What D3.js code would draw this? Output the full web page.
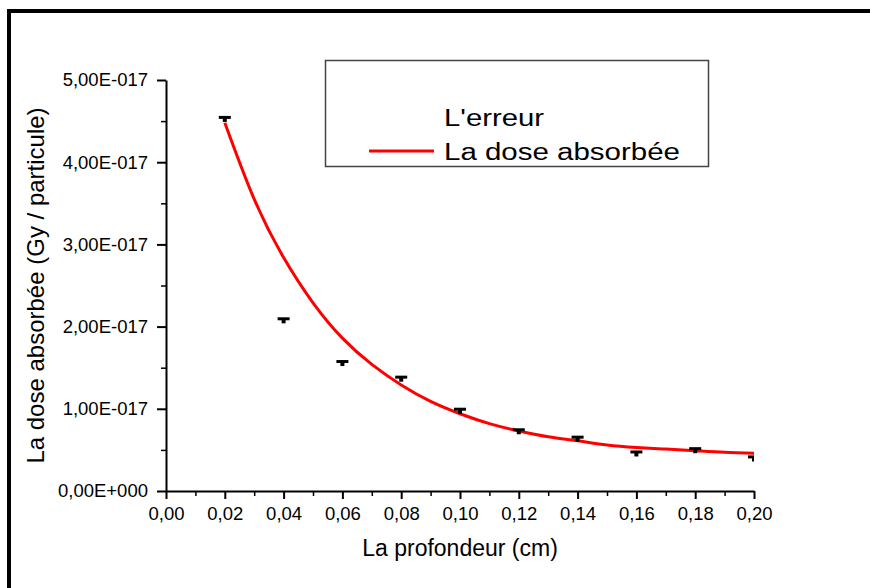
<!DOCTYPE html>
<html>
<head>
<meta charset="utf-8">
<script src="https://cdn.jsdelivr.net/npm/d3@7"></script>
<style>
  body { margin: 0; background: #fff; }
  svg { display: block; }
  text { font-family: "Liberation Sans", Arial, sans-serif; fill: #000; }
</style>
</head>
<body>
<svg id="chart" width="870" height="588"></svg>
<script>
// Measured absorbed dose per particle at each depth, with its error
const depth = [0.02, 0.04, 0.06, 0.08, 0.10, 0.12, 0.14, 0.16, 0.18, 0.20];
const dose = [4.49e-17, 2.04e-17, 1.52e-17, 1.33e-17, 0.94e-17, 0.69e-17, 0.60e-17, 0.42e-17, 0.46e-17, 0.36e-17];
const doseErr = [0.055e-17, 0.055e-17, 0.055e-17, 0.055e-17, 0.055e-17, 0.055e-17, 0.055e-17, 0.055e-17, 0.055e-17, 0.055e-17];

// Fitted absorbed dose curve
const fitDepth = [0.02, 0.03, 0.04, 0.05, 0.06, 0.07, 0.08, 0.09, 0.10, 0.11, 0.12, 0.13, 0.14, 0.15, 0.16, 0.17, 0.18, 0.19, 0.20];
const fitDose = [4.48e-17, 3.55e-17, 2.84e-17, 2.29e-17, 1.86e-17, 1.54e-17, 1.29e-17, 1.09e-17, 0.94e-17, 0.82e-17,
                 0.73e-17, 0.66e-17, 0.61e-17, 0.56e-17, 0.53e-17, 0.51e-17, 0.49e-17, 0.47e-17, 0.46e-17];

// Axis ticks
const xTicks = [0, 0.02, 0.04, 0.06, 0.08, 0.10, 0.12, 0.14, 0.16, 0.18, 0.20];
const xTickLabels = ["0,00", "0,02", "0,04", "0,06", "0,08", "0,10", "0,12", "0,14", "0,16", "0,18", "0,20"];
const xMinorTicks = [0.01, 0.03, 0.05, 0.07, 0.09, 0.11, 0.13, 0.15, 0.17, 0.19];
const yTicks = [0, 1e-17, 2e-17, 3e-17, 4e-17, 5e-17];
const yTickLabels = ["0,00E+000", "1,00E-017", "2,00E-017", "3,00E-017", "4,00E-017", "5,00E-017"];
const yMinorTicks = [0.5e-17, 1.5e-17, 2.5e-17, 3.5e-17, 4.5e-17];

const legendLabels = ["L'erreur", "La dose absorbée"];

const svg = d3.select("#chart");
const plot = { left: 166, right: 754, top: 80, bottom: 491 };

const x = d3.scaleLinear().domain([0, 0.20]).range([plot.left, plot.right]);
const y = d3.scaleLinear().domain([0, 5e-17]).range([plot.bottom, plot.top]);

// Outer frame
svg.append("path")
  .attr("d", "M9,588 V11 H870")
  .attr("fill", "none")
  .attr("stroke", "#000")
  .attr("stroke-width", 4);

// Clip to the plotting area
svg.append("clipPath").attr("id", "plotClip")
  .append("rect")
  .attr("x", plot.left).attr("y", plot.top - 10)
  .attr("width", plot.right - plot.left).attr("height", plot.bottom - plot.top + 10);

// Minor ticks
svg.append("g")
  .attr("transform", `translate(0,${plot.bottom})`)
  .call(d3.axisBottom(x).tickValues(xMinorTicks).tickFormat("").tickSize(5).tickSizeOuter(0))
  .call(g => g.select(".domain").remove())
  .call(g => g.selectAll("line").attr("stroke-width", 1.5));
svg.append("g")
  .attr("transform", `translate(${plot.left},0)`)
  .call(d3.axisLeft(y).tickValues(yMinorTicks).tickFormat("").tickSize(5).tickSizeOuter(0))
  .call(g => g.select(".domain").remove())
  .call(g => g.selectAll("line").attr("stroke-width", 1.5));

// Major axes
const xAxis = svg.append("g")
  .attr("transform", `translate(0,${plot.bottom})`)
  .call(d3.axisBottom(x).tickValues(xTicks).tickFormat((d, i) => xTickLabels[i]).tickSize(8).tickSizeOuter(0).tickPadding(8));
xAxis.select(".domain").attr("stroke-width", 2);
xAxis.selectAll("line").attr("stroke-width", 2);
xAxis.selectAll("text").attr("font-size", 18.5).attr("font-family", "Liberation Sans, Arial, sans-serif");

const yAxis = svg.append("g")
  .attr("transform", `translate(${plot.left},0)`)
  .call(d3.axisLeft(y).tickValues(yTicks).tickFormat((d, i) => yTickLabels[i]).tickSize(9).tickSizeOuter(0).tickPadding(9));
yAxis.select(".domain").attr("stroke-width", 2);
yAxis.selectAll("line").attr("stroke-width", 2);
yAxis.selectAll("text").attr("font-size", 18.5).attr("font-family", "Liberation Sans, Arial, sans-serif");

// Axis titles
svg.append("text")
  .attr("x", (plot.left + plot.right) / 2)
  .attr("y", 556)
  .attr("text-anchor", "middle")
  .attr("font-size", 23)
  .text("La profondeur (cm)");

svg.append("text")
  .attr("transform", `translate(44,${(plot.top + plot.bottom) / 2}) rotate(-90)`)
  .attr("text-anchor", "middle")
  .attr("font-size", 24)
  .text("La dose absorbée (Gy / particule)");

const clipped = svg.append("g").attr("clip-path", "url(#plotClip)");

// Fitted curve
const line = d3.line()
  .x((d, i) => x(fitDepth[i]))
  .y(d => y(d))
  .curve(d3.curveNatural);
clipped.append("path")
  .datum(fitDose)
  .attr("d", line)
  .attr("fill", "none")
  .attr("stroke", "#ff0000")
  .attr("stroke-width", 3);

// Error bars (upper direction with cap)
const bars = clipped.selectAll("g.err")
  .data(depth)
  .join("g")
  .attr("class", "err");
bars.append("line")
  .attr("x1", d => x(d)).attr("x2", d => x(d))
  .attr("y1", (d, i) => y(dose[i] + doseErr[i]))
  .attr("y2", (d, i) => y(dose[i]))
  .attr("stroke", "#000")
  .attr("stroke-width", 4);
bars.append("line")
  .attr("x1", d => x(d) - 6).attr("x2", d => x(d) + 6)
  .attr("y1", (d, i) => y(dose[i] + doseErr[i]))
  .attr("y2", (d, i) => y(dose[i] + doseErr[i]))
  .attr("stroke", "#000")
  .attr("stroke-width", 3);

// Legend
const legend = svg.append("g");
legend.append("rect")
  .attr("x", 325.5).attr("y", 60.5)
  .attr("width", 383).attr("height", 106)
  .attr("fill", "#fff")
  .attr("stroke", "#444")
  .attr("stroke-width", 1.5);
legend.append("text")
  .attr("x", 444).attr("y", 126)
  .attr("font-size", 23.5)
  .attr("textLength", 100)
  .attr("lengthAdjust", "spacingAndGlyphs")
  .text(legendLabels[0]);
legend.append("line")
  .attr("x1", 369).attr("x2", 434)
  .attr("y1", 151).attr("y2", 151)
  .attr("stroke", "#ff0000")
  .attr("stroke-width", 3);
legend.append("text")
  .attr("x", 444).attr("y", 160)
  .attr("font-size", 23.5)
  .attr("textLength", 236)
  .attr("lengthAdjust", "spacingAndGlyphs")
  .text(legendLabels[1]);
</script>
</body>
</html>
